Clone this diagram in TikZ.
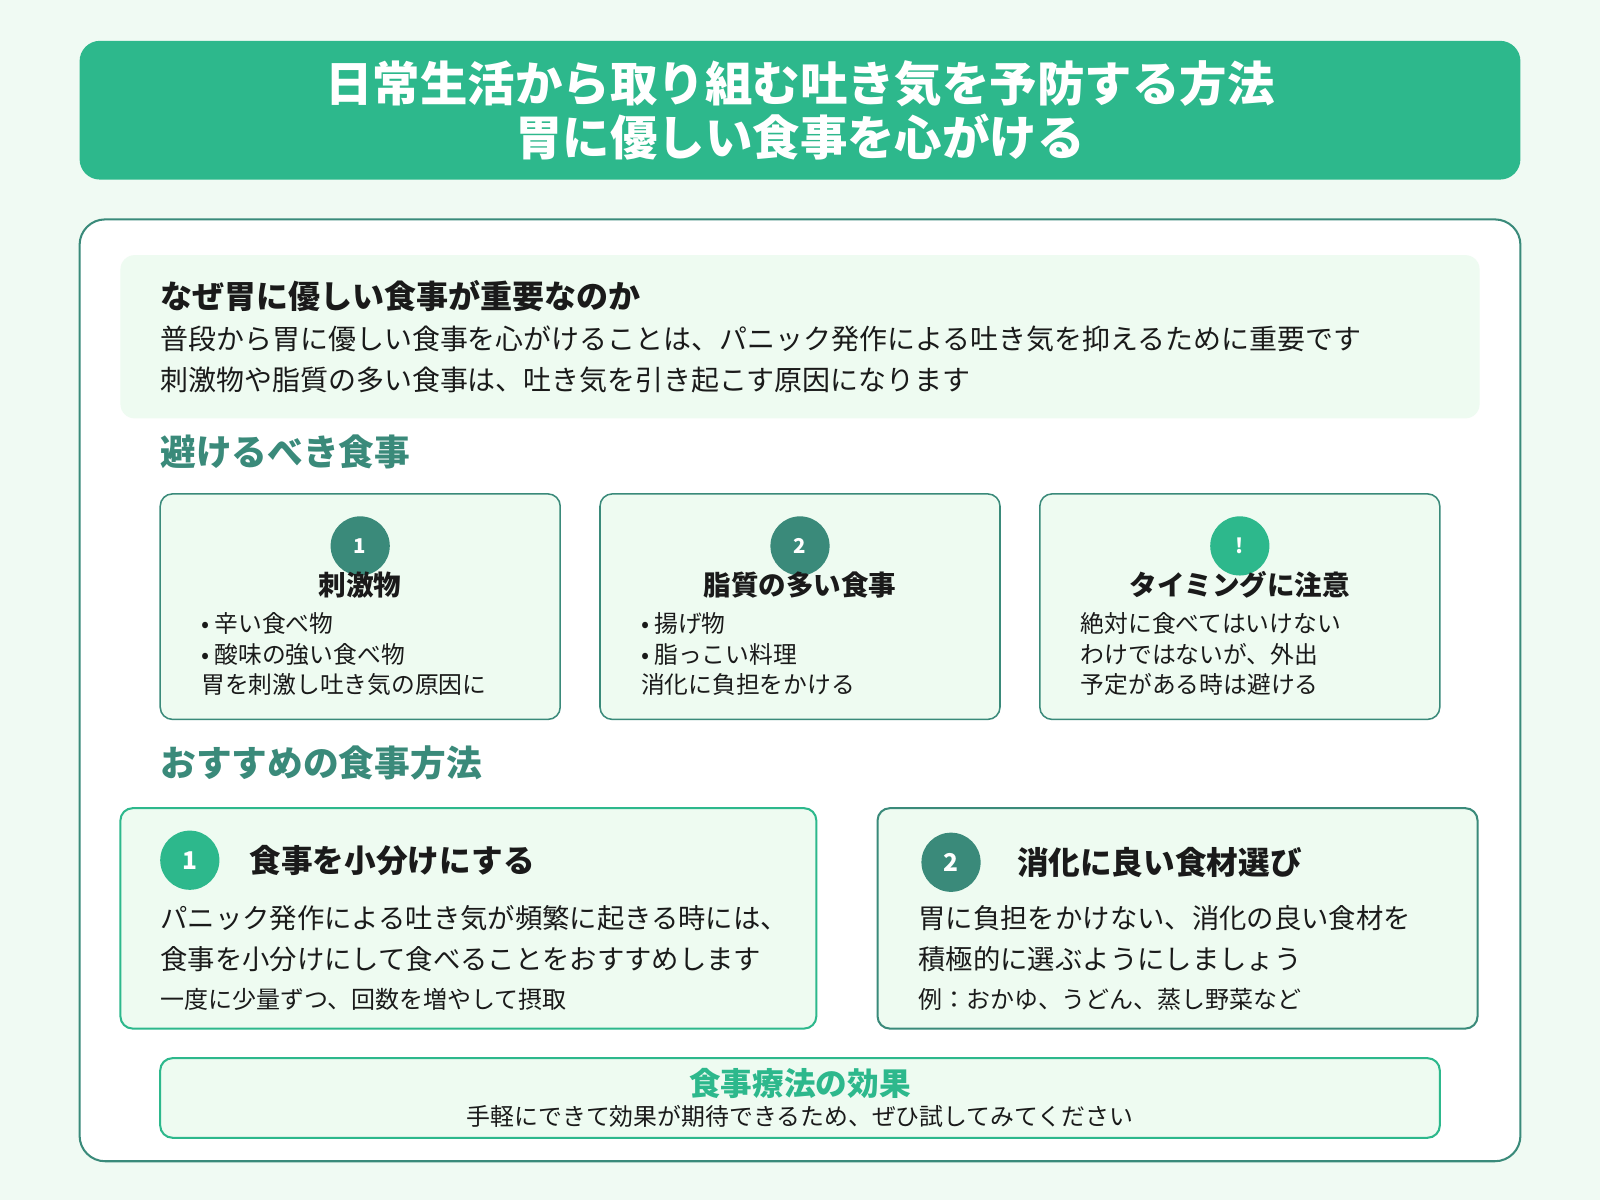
\documentclass[tikz,border=0pt]{standalone}
\usepackage{fontspec}
\setmainfont{Noto Sans CJK JP}
\usepackage{xcolor}
\definecolor{colorBack}{HTML}{F0FAF3}
\definecolor{colorHead}{HTML}{2DB88C}
\definecolor{colorTeal}{HTML}{3A8A7A}
\definecolor{colorCard}{HTML}{EEFBF1}
\definecolor{colorText}{HTML}{1A1A1A}
\usetikzlibrary{positioning}

\begin{document}
\begin{tikzpicture}[x=1pt, y=-1pt,
  card/.style={draw=colorTeal, line width=1.5pt, fill=colorCard, rounded corners=12pt},
  badge/.style={circle, fill=colorTeal, minimum size=58pt, inner sep=0pt, text=white, font=\bfseries\itshape\fontsize{20}{20}\selectfont},
  cardtitle/.style={font=\bfseries\fontsize{27}{27}\selectfont, text=colorText},
  cardtext/.style={anchor=north west, align=left, font=\fontsize{23.3}{30}\selectfont, text=colorText, inner sep=0pt},
  section/.style={anchor=west, inner sep=0pt, text=colorTeal, font=\bfseries\fontsize{35}{35}\selectfont}]
\useasboundingbox[fill=colorBack] (0,0) rectangle (1568,1176);
% title
\node[fill=colorHead, rounded corners=20pt, minimum width=1412pt, minimum height=136pt, inner sep=0pt] (title) at (784,108) {};
\node[text=white, align=center, font=\bfseries\fontsize{46.5}{53}\selectfont] at (title) {日常生活から取り組む吐き気を予防する方法\\胃に優しい食事を心がける};
% main panel
\draw[fill=white, draw=colorTeal, line width=2pt, rounded corners=25pt] (78,215) rectangle (1490,1138);
% intro
\fill[colorCard, rounded corners=14pt] (118,250) rectangle (1450,410);
\node[anchor=west, inner sep=0pt, font=\bfseries\fontsize{31.4}{31.4}\selectfont, text=colorText] (why) at (157,290) {なぜ胃に優しい食事が重要なのか};
\node[anchor=north west, inner sep=0pt, align=left, font=\fontsize{27.4}{40}\selectfont, text=colorText] (whytext) at (157,319) {普段から胃に優しい食事を心がけることは、パニック発作による吐き気を抑えるために重要です\\刺激物や脂質の多い食事は、吐き気を引き起こす原因になります};
% foods to avoid
\node[section] (avoid) at (157,443) {避けるべき食事};
\foreach \x/\n/\c/\t/\body in {
  157/1/colorTeal/刺激物/{• 辛い食べ物\\• 酸味の強い食べ物\\胃を刺激し吐き気の原因に},
  588/2/colorTeal/脂質の多い食事/{• 揚げ物\\• 脂っこい料理\\消化に負担をかける},
  1019/!/colorHead/タイミングに注意/{絶対に食べてはいけない\\わけではないが、外出\\予定がある時は避ける}} {
  \draw[card] (\x,484) rectangle ++(392,221);
  \node[badge, fill=\c] (b\n) at (\x+196,535) {\n};
  \node[cardtitle] (t\n) at (\x+196,573) {\t};
  \node[cardtext] (x\n) at (\x+40,600) {\body};
}
% recommended
\node[section] (reco) at (157,748) {おすすめの食事方法};
\draw[card, draw=colorHead, line width=2pt] (118,792) rectangle (800,1008);
\node[badge, fill=colorHead, font=\bfseries\itshape\fontsize{24}{24}\selectfont] (r1) at (186,843) {1};
\node[cardtitle, anchor=west, font=\bfseries\fontsize{31}{31}\selectfont, right=26pt of r1] (rt1) {食事を小分けにする};
\node[cardtext, font=\fontsize{26.8}{40}\selectfont] (rx1) at (157,887) {パニック発作による吐き気が頻繁に起きる時には、\\食事を小分けにして食べることをおすすめします};
\node[cardtext, font=\fontsize{23.5}{23.5}\selectfont] (rs1) at (157,968) {一度に少量ずつ、回数を増やして摂取};
\draw[card, line width=2pt] (860,792) rectangle (1448,1008);
\node[badge, font=\bfseries\itshape\fontsize{24}{24}\selectfont] (r2) at (932,845) {2};
\node[cardtitle, anchor=west, font=\bfseries\fontsize{31}{31}\selectfont, right=32pt of r2] (rt2) {消化に良い食材選び};
\node[cardtext, font=\fontsize{26.8}{40}\selectfont] (rx2) at (900,887) {胃に負担をかけない、消化の良い食材を\\積極的に選ぶようにしましょう};
\node[cardtext, font=\fontsize{23.5}{23.5}\selectfont] (rs2) at (900,968) {例：おかゆ、うどん、蒸し野菜など};
% effect
\draw[card, draw=colorHead, line width=2pt] (157,1037) rectangle (1411,1115);
\node[text=colorHead, font=\bfseries\fontsize{31}{31}\selectfont, inner sep=0pt] (eff) at (784,1062) {食事療法の効果};
\node[text=colorText, font=\fontsize{23.4}{23.4}\selectfont, inner sep=0pt, below=6pt of eff] (efftext) {手軽にできて効果が期待できるため、ぜひ試してみてください};
\end{tikzpicture}
\end{document}
